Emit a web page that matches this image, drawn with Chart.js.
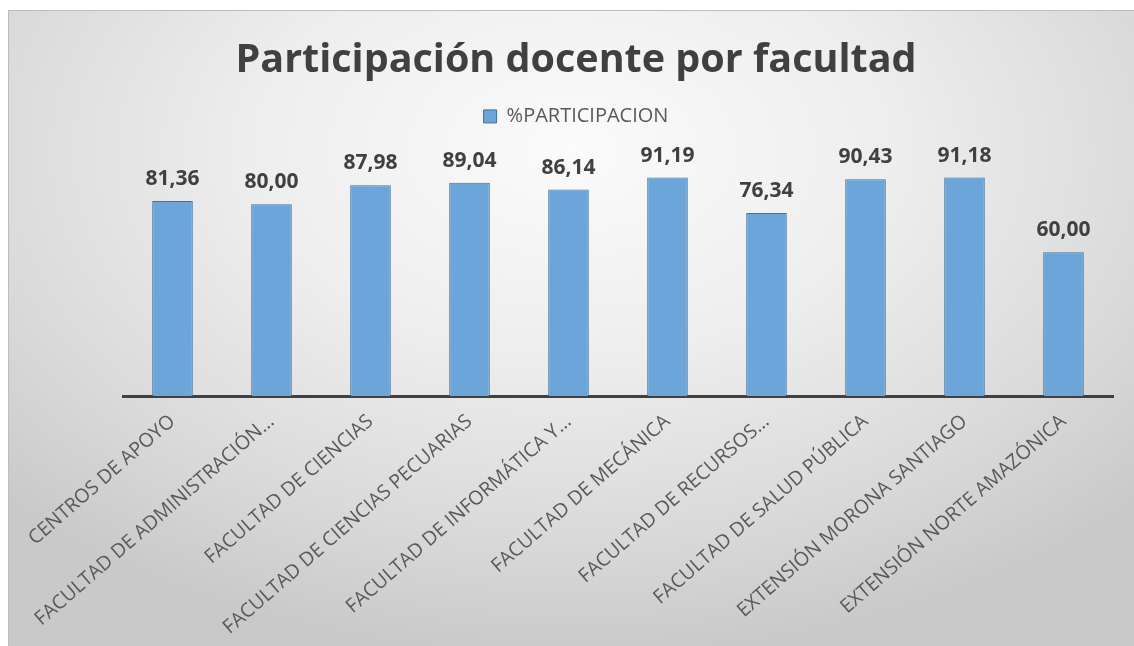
<!DOCTYPE html>
<html lang="es">
  <head>
    <meta charset="UTF-8" />
    <title>Participación docente por facultad</title>
    <script src="https://cdn.jsdelivr.net/npm/chart.js@4.4.0/dist/chart.umd.min.js"></script>
    <style>
      body {
        margin: 0;
        background: #ffffff;
        overflow: hidden;
      }
      .frame {
        position: absolute;
        left: 8px;
        top: 10px;
        width: 1126px;
        height: 636px;
        border-top: 1px solid #bdbdbd;
        border-left: 1px solid #bdbdbd;
        box-sizing: border-box;
        background: radial-gradient(ellipse 70% 80% at 50% 22%, #fbfbfb 0%, #eeeeee 40%, #dadada 75%, #c9c9c9 100%);
      }
    </style>
  </head>
  <body>
    <div class="frame">
      <canvas id="chart"></canvas>
    </div>

    <script>
      const categories = [
        "CENTROS DE APOYO",
        "FACULTAD DE ADMINISTRACIÓN…",
        "FACULTAD DE CIENCIAS",
        "FACULTAD DE CIENCIAS PECUARIAS",
        "FACULTAD DE INFORMÁTICA Y…",
        "FACULTAD DE MECÁNICA",
        "FACULTAD DE RECURSOS…",
        "FACULTAD DE SALUD PÚBLICA",
        "EXTENSIÓN MORONA SANTIAGO",
        "EXTENSIÓN NORTE AMAZÓNICA",
      ];
      const participacion = [81.36, 80.0, 87.98, 89.04, 86.14, 91.19, 76.34, 90.43, 91.18, 60.0];

      const fontFamily = "'Open Sans', Lato, sans-serif";

      // etiquetas de valor encima de cada barra
      const valueLabels = {
        id: "valueLabels",
        afterDatasetsDraw(chart) {
          const ctx = chart.ctx;
          const meta = chart.getDatasetMeta(0);
          ctx.save();
          ctx.font = "bold 21px " + fontFamily;
          ctx.fillStyle = "#404040";
          ctx.textAlign = "center";
          ctx.textBaseline = "alphabetic";
          meta.data.forEach((bar, i) => {
            const txt = participacion[i].toFixed(2).replace(".", ",");
            ctx.fillText(txt, bar.x, bar.y - 16);
          });
          ctx.restore();
        },
      };

      // espacio extra bajo la leyenda
      const legendSpace = {
        id: "legendSpace",
        beforeInit(chart) {
          const origFit = chart.legend.fit;
          chart.legend.fit = function () {
            origFit.call(this);
            this.height += 20;
          };
        },
      };

      new Chart(document.getElementById("chart"), {
        type: "bar",
        data: {
          labels: categories,
          datasets: [
            {
              label: "%PARTICIPACION",
              data: participacion,
              backgroundColor: "#6ca5da",
              borderColor: "#41719c",
              borderWidth: 1,
              categoryPercentage: 1,
              barPercentage: 0.41,
            },
          ],
        },
        options: {
          responsive: true,
          maintainAspectRatio: false,
          animation: false,
          layout: {
            padding: { left: 9, right: 0, top: 0, bottom: 0 },
          },
          plugins: {
            title: {
              display: true,
              text: "Participación docente por facultad",
              color: "#404040",
              font: { family: fontFamily, size: 39.5, weight: "bold" },
              padding: { top: 26, bottom: 12 },
            },
            legend: {
              display: true,
              labels: {
                color: "#595959",
                font: { family: fontFamily, size: 20 },
                boxWidth: 13,
                boxHeight: 13,
                padding: 10,
              },
            },
            tooltip: { enabled: false },
          },
          scales: {
            x: {
              grid: { display: false, drawTicks: false },
              border: { display: true, color: "#404040", width: 3 },
              ticks: {
                color: "#595959",
                font: { family: fontFamily, size: 19.5 },
                maxRotation: 41,
                minRotation: 41,
                autoSkip: false,
                padding: 14,
              },
              afterFit(axis) {
                axis.height = 250;
              },
            },
            y: {
              display: true,
              position: "left",
              min: 0,
              max: 100,
              grid: { display: false },
              border: { display: false },
              ticks: { display: false },
              afterFit(axis) {
                axis.width = 105;
              },
            },
            yRight: {
              display: true,
              position: "right",
              grid: { display: false },
              border: { display: false },
              ticks: { display: false },
              afterFit(axis) {
                axis.width = 21;
              },
            },
          },
        },
        plugins: [valueLabels, legendSpace],
      });
    </script>
  </body>
</html>
